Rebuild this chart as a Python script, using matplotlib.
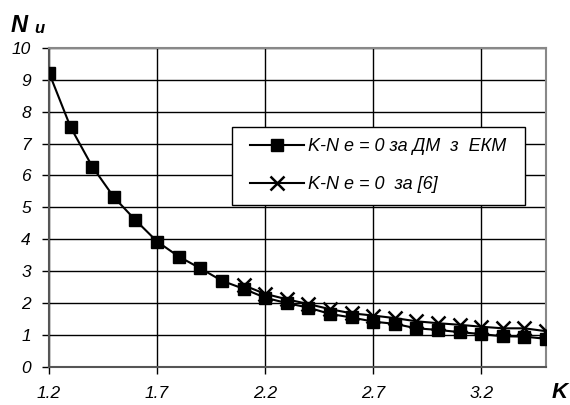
import matplotlib
matplotlib.use("Agg")
import matplotlib.pyplot as plt
from matplotlib.patches import Rectangle

plt.rcParams['font.family'] = ['Liberation Sans', 'DejaVu Sans']

# K values and N_u for both series
k_dm = [1.2, 1.3, 1.4, 1.5, 1.6, 1.7, 1.8, 1.9, 2.0, 2.1, 2.2, 2.3,
        2.4, 2.5, 2.6, 2.7, 2.8, 2.9, 3.0, 3.1, 3.2, 3.3, 3.4, 3.5]
n_dm = [9.22, 7.51, 6.28, 5.32, 4.60, 3.93, 3.46, 3.09, 2.70, 2.45, 2.17, 2.00,
        1.86, 1.66, 1.55, 1.42, 1.35, 1.21, 1.16, 1.09, 1.03, 0.96, 0.95, 0.88]

k_6 = [2.1, 2.2, 2.3, 2.4, 2.5, 2.6, 2.7, 2.8, 2.9, 3.0, 3.1, 3.2, 3.3, 3.4, 3.5]
n_6 = [2.56, 2.29, 2.12, 1.97, 1.81, 1.68, 1.61, 1.53, 1.43, 1.37, 1.32, 1.26, 1.21, 1.21, 1.12]

x_ticks = [1.2, 1.7, 2.2, 2.7, 3.2]
y_ticks = list(range(0, 11))

fig = plt.figure(figsize=(5.7, 4.05), dpi=100)
ax = fig.add_axes([0.086, 0.094, 0.872, 0.788])

ax.plot(k_dm, n_dm, color='black', lw=1.5, marker='s', ms=9,
        label='K-N e = 0 за ДМ  з  ЕКМ', zorder=3)
ax.plot(k_6, n_6, color='black', lw=1.5, marker='x', ms=10, mew=1.8,
        label='K-N e = 0  за [6]', zorder=3)

ax.set_xlim(1.2, 3.5)
ax.set_ylim(0, 10)
ax.set_xticks(x_ticks)
ax.set_yticks(y_ticks)
ax.set_xticklabels([f"{v:.1f}" for v in x_ticks], fontstyle='italic', fontsize=12.5)
ax.set_yticklabels([str(v) for v in y_ticks], fontstyle='italic', fontsize=12.5)
ax.tick_params(axis='both', length=5, width=1, color='black', direction='out')
ax.tick_params(axis='x', pad=9)
ax.tick_params(axis='y', pad=8)
ax.grid(True, color='black', lw=1)
ax.set_axisbelow(True)
for s in ['left', 'bottom']:
    ax.spines[s].set_color('#555555')
    ax.spines[s].set_linewidth(1.5)
for s in ['top', 'right']:
    ax.spines[s].set_color('#888888')
    ax.spines[s].set_linewidth(1.5)

fig.text(0.019, 0.921, 'N', fontsize=17, fontweight='bold', fontstyle='italic')
fig.text(0.061, 0.918, 'u', fontsize=12, fontweight='bold', fontstyle='italic')
fig.text(0.968, 0.018, 'K', fontsize=16, fontweight='bold', fontstyle='italic')

# legend box drawn separately, legend content placed inside it
box = Rectangle((0.368, 0.507), 0.59, 0.245, transform=ax.transAxes,
                facecolor='white', edgecolor='black', lw=1.0, zorder=4)
ax.add_patch(box)
leg = ax.legend(loc='upper left', bbox_to_anchor=(0.404, 0.716),
                borderaxespad=0, borderpad=0, frameon=False,
                prop={'style': 'italic', 'size': 13}, handlelength=3,
                labelspacing=1.15, handletextpad=0.2)
leg.set_zorder(5)

fig.savefig('out.png', dpi=100)
